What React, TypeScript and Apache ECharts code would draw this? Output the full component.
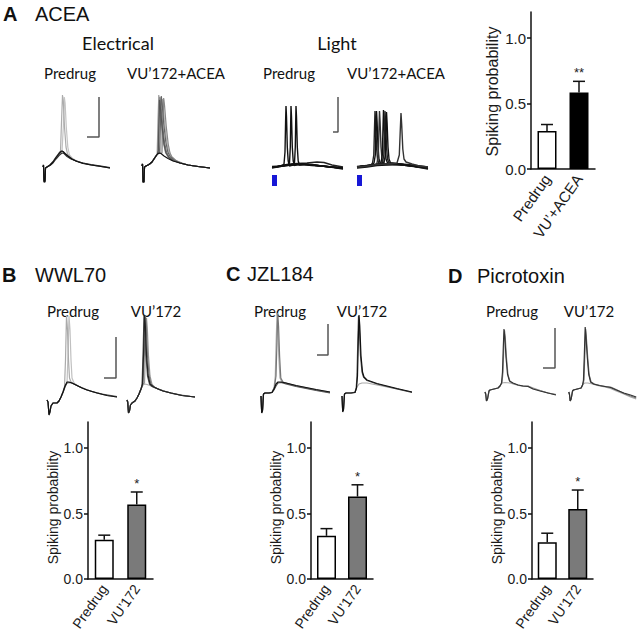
import React, { useEffect, useRef } from "react";
import * as echarts from "echarts";

type P = [number, number][];

// ---------------- bar chart data ----------------
const catsA = ["Predrug", "VU’+ACEA"];
const catsBCD = ["Predrug", "VU’172"];
const yTicks = [0, 0.5, 1.0];
const meanA = [0.29, 0.585];
const errA = [0.34, 0.67];
const starA = ["", "**"];
const meanB = [0.3, 0.57];
const errB = [0.335, 0.665];
const meanC = [0.33, 0.63];
const errC = [0.385, 0.72];
const meanD = [0.28, 0.535];
const errD = [0.35, 0.68];
const starBCD = ["", "*"];

// ---------------- traces (time ms, membrane mV relative to baseline) ----------------
// A, electrical, predrug
const aepSub1: P = [[0,0],[0.5,2],[1,-15],[2,-15],[2.5,-1],[4,0],[7,2],[10,5],[13,9.5],[16,13.5],[18,15.5],[19,16],[20,15.5],[22,13.5],[25,11],[29,8],[34,5.5],[40,3.5],[48,2],[58,0.5],[67,-1]];
const aepSub2: P = [[0,0],[0.5,2],[1,-14],[2,-14],[2.5,-1],[4,0],[7,1.5],[10,4],[13,8],[16,11.5],[19,14],[21,13.5],[24,10.5],[28,8],[33,6],[40,4],[48,2.5],[58,1],[67,-0.5]];
const aepSub3: P = [[0,0],[0.5,1],[1,-13],[2,-13],[2.5,-1],[4,0],[7,2],[10,5.5],[13,10],[16,14],[18,16],[20,15.5],[23,12.5],[27,9],[32,6.5],[39,4],[48,2],[58,0.5],[67,-1]];
const aepSp1: P = [[0,0],[0.5,2],[1,-15],[2,-15],[2.5,-1],[4,0],[7,2],[10,5],[13,9],[16,12.5],[17.5,16],[18.5,45],[19.5,72],[20.3,66],[21.5,40],[23,20],[24.5,13],[27,10],[31,7],[36,5],[44,3],[55,1],[67,-1]];
const aepSp2: P = [[0,0],[0.5,2],[1,-15],[2,-15],[2.5,-1],[4,0],[7,2],[10,5],[13,9],[16,12.5],[19,15],[20.3,40],[21.3,70],[22.1,64],[23.3,40],[24.8,20],[26.5,12],[29,9],[33,6.5],[38,4.5],[46,2.5],[56,1],[67,-1]];
const aepScale: P = [[44,30],[56,30],[56,70]];

// A, electrical, VU'172+ACEA
const aevSub: P = [[0,0],[0.5,2],[1,-16],[2,-16],[2.5,-1],[4,0],[7,1.5],[10,4],[12,7],[14,10],[15.5,12],[17,13],[19,12.5],[22,10],[26,7.5],[31,5],[38,3],[46,1],[56,-0.5],[68,-2]];
const aevSp1: P = [[0,0],[0.5,2],[1,-16],[2,-16],[2.5,-1],[4,0],[7,1.5],[10,4],[12,7],[14,10],[15.2,13],[16,45],[16.8,71],[17.6,64],[19.3,42],[21.3,24],[23.3,14],[26,9],[31,5.5],[38,3],[46,1],[56,-0.5],[68,-2]];
const aevSp2: P = [[0,0],[0.5,2],[1,-16],[2,-16],[2.5,-1],[4,0],[7,1.5],[10,4],[12,7],[14,10],[15.5,12],[16.4,16],[17.2,45],[18,69],[18.8,62],[20.5,42],[22.5,24],[24.5,14],[27,9],[31,6],[38,3],[46,1],[56,-0.5],[68,-2]];
const aevSp3: P = [[0,0],[0.5,2],[1,-16],[2,-16],[2.5,-1],[4,0],[7,1.5],[10,4],[12,7],[14,10],[15.5,12],[17.5,13],[18.5,45],[19.3,70],[20.1,63],[21.8,42],[23.8,24],[25.8,14],[28,9.5],[32,6],[38,3],[46,1],[56,-0.5],[68,-2]];
const aevSp4: P = [[0,0],[0.5,2],[1,-16],[2,-16],[2.5,-1],[4,0],[7,1.5],[10,4],[12,7],[14,10],[15.5,12],[18.7,13],[19.7,45],[20.5,67],[21.3,60],[23,40],[25,22],[27,13],[29,9.5],[33,6],[38,3.5],[46,1],[56,-0.5],[68,-2]];
const aevSp5: P = [[0,0],[0.5,2],[1,-16],[2,-16],[2.5,-1],[4,0],[7,1.5],[10,4],[12,7],[14,10],[15.5,12],[17,13],[20,13],[20.9,45],[21.7,68],[22.5,61],[24.2,40],[26.2,22],[28,13],[30,9],[34,5.5],[40,3],[46,1],[56,-0.5],[68,-2]];
const aevSp6: P = [[0,0],[0.5,2],[1,-16],[2,-16],[2.5,-1],[4,0],[7,1.5],[10,4],[12,7],[14,10],[15.5,12],[16.3,15],[16.9,45],[17.5,66],[18.3,59],[20,40],[22,22],[24,13],[27,8.5],[31,5.5],[38,3],[46,1],[56,-0.5],[68,-2]];

// A, light, predrug
const alpBase1: P = [[0,0],[5,0.5],[10,1.5],[15,2.5],[22,3],[30,3],[40,2],[50,1],[60,0],[71,-1]];
const alpBase2: P = [[0,-1],[8,0.5],[15,2],[25,3.5],[35,4],[45,5],[52,4.5],[60,2],[71,0]];
const alpBase3: P = [[0,0.5],[10,1],[20,2],[30,2.5],[40,1.5],[55,0.5],[71,-2]];
const alpSp1: P = [[0,0],[6,0.5],[10,1.5],[12,3],[13,15],[13.6,45],[14,61],[14.5,50],[15.3,20],[16.2,6],[17.5,1],[19,1.5],[25,2.5],[35,2.5],[45,1.5],[58,0],[71,-1]];
const alpSp2: P = [[0,0],[6,0.5],[12,1.5],[16,2.5],[17.5,4],[18.3,20],[18.7,45],[19,61],[19.5,50],[20.3,20],[21.2,6],[22.5,1.5],[25,2.5],[35,2.5],[45,1.5],[58,0],[71,-1]];
const alpSp3: P = [[0,-0.5],[8,0.5],[15,1.5],[21,3],[22.5,4],[23.3,20],[23.7,45],[24,61],[24.5,50],[25.3,20],[26.2,6],[27.5,2],[32,3],[40,2.5],[50,1],[60,0],[71,-1.5]];
const alpScale: P = [[61,35],[66,35],[66,70]];
const alpStim: P = [[0,-8],[5,-19]];

// A, light, VU'172+ACEA
const alvBase1: P = [[0,0],[8,1],[16,2],[25,3],[35,3.5],[45,3],[55,2],[64,1],[71,0]];
const alvBase2: P = [[0,-1],[10,0],[20,1.5],[30,2],[40,2.5],[50,1.5],[60,0],[71,-2]];
const alvSp1: P = [[0,0],[8,1],[14,2],[15.5,4],[16.8,12],[17.4,35],[18,56],[18.6,45],[19.5,20],[20.5,8],[22,3],[30,2.5],[40,2.5],[50,1.5],[60,0.5],[71,-1]];
const alvSp2: P = [[0,0],[8,1],[15,2],[17,4],[18.3,12],[18.9,35],[19.5,56],[20.1,45],[21,20],[22,8],[23.5,3],[30,3],[40,2.5],[50,1.5],[60,0.5],[71,-1]];
const alvSp3: P = [[0,-0.5],[10,1],[18,2.5],[20,4],[21.3,12],[21.9,35],[22.5,56],[23.1,45],[24,20],[25,8],[26.5,3.5],[35,3],[45,2.5],[55,1],[71,-1.5]];
const alvSp4: P = [[0,0],[10,1],[20,2.5],[24,4],[25.3,12],[25.9,35],[26.5,57],[27.1,45],[28,20],[29,8],[30.5,4],[40,3],[50,2],[60,0.5],[71,-1]];
const alvSp5: P = [[0,0],[10,1],[20,2.5],[25.5,4],[26.8,12],[27.4,35],[28,56],[28.6,45],[29.5,20],[30.5,8],[32,4],[40,3],[50,2],[60,0.5],[71,-1]];
const alvSp6: P = [[0,0.5],[10,1.5],[20,2.5],[27,4],[28.3,12],[28.9,35],[29.5,55],[30.1,44],[31,20],[32,8],[33.5,4],[42,3],[52,1.5],[62,0],[71,-1]];
const alvSp7: P = [[0,0],[10,1],[20,2.5],[30,3],[40,4],[42.3,12],[43.2,35],[44,54],[44.7,42],[45.8,18],[47,8],[49,5],[55,3],[62,1],[71,0]];
const alvStim: P = [[0,-8],[5,-19]];

// B, WWL70
const bpSub1: P = [[0,0],[1,-2],[2,-15],[3,-12],[4,-6],[6,-3],[10,-3],[12,-1],[14,3],[16,8],[18,14],[20,18],[22,18],[25,17],[30,14.5],[35,12],[40,10],[50,7],[60,4.5],[70,3]];
const bpSub2: P = [[0,0],[1,-2],[2,-14],[3,-11],[4,-6],[6,-3],[10,-3],[12,-1],[14,3],[16,7.5],[18,13],[20,17],[23,17.5],[27,16],[32,13.5],[38,11],[45,8.5],[55,6],[70,3.5]];
const bpSp1: P = [[0,0],[1,-2],[2,-15],[3,-12],[4,-6],[6,-3],[10,-3],[12,-1],[14,3],[16,8],[17.5,13],[18.5,40],[19.5,85],[20.5,70],[21.5,40],[22.5,22],[24,18],[27,16],[32,13.5],[40,10],[50,7],[60,4.5],[70,3]];
const bpSp2: P = [[0,0],[1,-2],[2,-15],[3,-12],[4,-6],[6,-3],[10,-3],[12,-1],[14,3],[16,8],[18,14],[20,17],[21,45],[22,84],[23,70],[24,40],[25,22],[27,17],[32,13.5],[40,10],[50,7],[60,4.5],[70,3]];
const bpScale: P = [[57,22],[69,22],[69,63]];

const bvSp1: P = [[0,0],[0.7,-2],[1.5,-13],[2.5,-11],[3.5,-5],[5,-3],[8,-1],[10,2],[12,6],[14,11],[15.5,16],[16.5,45],[17.5,85],[18.3,75],[19.5,45],[21,25],[23,16],[26,13.5],[30,11.5],[36,9],[44,7],[55,4.5],[68,3]];
const bvSp2: P = [[0,0],[0.7,-2],[1.5,-13],[2.5,-11],[3.5,-5],[5,-3],[8,-1],[10,2],[12,6],[14,11],[16,16.5],[17.3,45],[18.5,84],[19.3,74],[20.5,45],[22,25],[24,16],[27,13],[31,11],[37,9],[45,6.5],[55,4.5],[68,3]];
const bvSp3: P = [[0,0],[0.7,-2],[1.5,-12],[2.5,-10],[3.5,-5],[5,-3],[8,-1],[10,2],[12,6],[14,11],[16,16],[17.5,17],[18.4,45],[19.5,82],[20.3,72],[21.5,44],[23,24],[25,15.5],[28,12.5],[32,10.5],[38,8.5],[46,6.5],[56,4.5],[68,3]];
const bvSp4: P = [[0,0],[0.7,-2],[1.5,-13],[2.5,-11],[3.5,-5],[5,-3],[8,-1],[10,2],[12,6],[14,11],[15,14],[16,45],[17,85],[17.8,75],[19,45],[20.5,24],[22.5,16],[25,13.5],[30,11.5],[36,9],[44,7],[55,4.5],[68,3]];
const bvSub: P = [[0,0],[0.7,-2],[1.5,-12],[2.5,-10],[3.5,-5],[5,-3],[8,-1],[10,2],[12,6],[14,11],[16,15],[18,16],[20,15.5],[23,14.5],[28,12],[34,10],[42,7.5],[52,5.5],[68,3]];

// C, JZL184
const cpSub1: P = [[0,0],[0.7,-17],[1.5,-15],[2.5,2],[4,3],[8,3],[11,3.5],[13,7],[15,12],[17,14],[20,14],[25,13],[35,10.5],[45,8.5],[55,6.5],[69,4]];
const cpSub2: P = [[0,0],[0.7,-16],[1.5,-14],[2.5,2],[4,3],[8,3],[11,3.5],[13,6],[15,10],[17,13],[20,13.5],[25,12],[35,9.5],[45,7.5],[55,5.5],[69,3]];
const cpSp1: P = [[0,0],[0.7,-17],[1.5,-15],[2.5,2],[4,3],[8,3],[11,3.5],[13,8],[14.3,20],[15.2,55],[16,83],[16.8,70],[17.8,40],[19,18],[21,14],[25,13],[35,10.5],[45,8.5],[55,6.5],[69,4]];
const cpSp2: P = [[0,0],[0.7,-16],[1.5,-14],[2.5,2],[4,3],[8,3],[11,3.5],[13.5,9],[15,20],[16,55],[16.8,82],[17.6,69],[18.6,40],[19.8,18],[22,14],[26,12.5],[35,10],[45,8],[55,6],[69,3.5]];
const cpScale: P = [[56,41],[67,41],[67,72]];

const cvSp1: P = [[0,0],[0.7,-16],[1.5,-14],[2.5,2],[4,3],[9,3],[13,3.5],[14.5,8],[15.5,20],[16.3,55],[17,81],[17.8,70],[19,40],[20.5,24],[22,19],[25,16],[35,12.5],[45,10],[55,7.5],[70,4]];
const cvSp2: P = [[0,0],[0.7,-15],[1.5,-13],[2.5,2],[4,3],[9,3],[13,3.5],[14.2,8],[15,20],[15.8,55],[16.5,80],[17.3,69],[18.5,40],[20,24],[21.5,19],[25,15.5],[35,12],[45,9.5],[55,7],[70,3.5]];
const cvSub: P = [[0,0],[0.7,-15],[1.5,-13],[2.5,2],[4,3],[9,3],[13,4],[15,9],[17,12],[20,13],[25,13],[30,12],[40,10],[50,8],[60,6],[70,4]];

// D, Picrotoxin
const dpSp1: P = [[0,0],[0.7,-2],[1.5,-9],[2.5,-7],[4,1],[5,2],[9,3],[13,4],[15,6],[16.5,9],[17.5,20],[18.3,45],[19,63],[19.8,55],[21,35],[22.5,18],[24.5,11],[28,9],[33,7],[38,6],[43,5.5],[48,3],[55,1],[63,-1],[71,-3]];
const dpSp2: P = [[0,0],[0.7,-2],[1.5,-9],[2.5,-7],[4,1],[5,2],[9,3],[13,4],[15,6],[17,9],[18,20],[18.8,45],[19.5,62],[20.3,54],[21.5,34],[23,17],[25,10.5],[28,8.5],[33,7],[38,6],[43,6],[48,3.5],[55,1.5],[63,-1],[71,-2.5]];
const dpSub: P = [[0,0],[0.7,-2],[1.5,-9],[2.5,-7],[4,1],[5,2],[9,3],[13,4],[15,6],[17,9],[20,9.5],[25,9],[30,7.5],[36,6],[40,5.5],[43,6],[47,4.5],[55,1.5],[63,-1],[71,-2.5]];
const dpScale: P = [[58,24],[70,24],[70,64]];

const dvSp1: P = [[0,0],[0.7,-2],[1.5,-9],[2.5,-7],[4,1],[5,2],[9,3],[13,4],[14.5,7],[15.5,12],[16.5,40],[17.3,65],[18,57],[19.5,35],[21,18],[23,10],[26,8],[32,6.5],[38,5.5],[44,4.5],[50,2],[58,-1],[65,-3],[71,-5]];
const dvSp2: P = [[0,0],[0.7,-2],[1.5,-9],[2.5,-7],[4,1],[5,2],[9,3],[13,4],[15,7.5],[16,12],[17,40],[17.8,63],[18.5,55],[20,34],[21.5,17],[23.5,10],[27,8],[33,6.5],[39,5.5],[44,5],[50,2.5],[58,-1.5],[65,-4],[71,-6]];
const dvSub: P = [[0,0],[0.7,-2],[1.5,-9],[2.5,-7],[4,1],[5,2],[9,3],[13,4],[15,8],[17,9],[20,9],[25,8],[30,6.5],[38,5],[44,3.5],[50,1],[58,-2],[65,-5],[71,-7]];

// ---------------- layout ----------------
const SANS = '"Liberation Sans", Arial, sans-serif';
const HUM = 'Lato, "Open Sans", sans-serif';

type Panel = { x0: number; y0: number; lw: number; traces: [P, string][]; scale?: P; stim?: P };
const panels: Panel[] = [
  { x0: 43, y0: 167, lw: 1.2, traces: [[aepSp2, "#c4c4c4"], [aepSp1, "#acacac"], [aepSub3, "#777"], [aepSub2, "#333"], [aepSub1, "#111"]], scale: aepScale },
  { x0: 142, y0: 166, lw: 1.2, traces: [[aevSp4, "#b5b5b5"], [aevSp1, "#999"], [aevSp5, "#888"], [aevSp3, "#666"], [aevSp2, "#777"], [aevSp6, "#555"], [aevSub, "#111"]] },
  { x0: 272, y0: 167, lw: 1.4, traces: [[alpBase2, "#222"], [alpBase3, "#111"], [alpBase1, "#111"], [alpSp1, "#111"], [alpSp2, "#111"], [alpSp3, "#111"]], scale: alpScale, stim: alpStim },
  { x0: 357, y0: 167, lw: 1.4, traces: [[alvBase1, "#222"], [alvBase2, "#111"], [alvSp1, "#222"], [alvSp2, "#111"], [alvSp3, "#333"], [alvSp4, "#111"], [alvSp5, "#222"], [alvSp6, "#111"], [alvSp7, "#333"]], stim: alvStim },
  { x0: 47, y0: 400, lw: 1.2, traces: [[bpSp2, "#c0c0c0"], [bpSp1, "#aaa"], [bpSub2, "#555"], [bpSub1, "#111"]], scale: bpScale },
  { x0: 127, y0: 400, lw: 1.2, traces: [[bvSub, "#b0b0b0"], [bvSp3, "#999"], [bvSp2, "#777"], [bvSp4, "#555"], [bvSp1, "#222"]] },
  { x0: 261, y0: 396, lw: 1.2, traces: [[cpSp1, "#aaa"], [cpSp2, "#777"], [cpSub2, "#555"], [cpSub1, "#111"]], scale: cpScale },
  { x0: 342, y0: 396, lw: 1.2, traces: [[cvSub, "#aaa"], [cvSp2, "#555"], [cvSp1, "#111"]] },
  { x0: 485, y0: 392, lw: 1.2, traces: [[dpSub, "#aaa"], [dpSp2, "#888"], [dpSp1, "#333"]], scale: dpScale },
  { x0: 569, y0: 392, lw: 1.2, traces: [[dvSub, "#aaa"], [dvSp2, "#777"], [dvSp1, "#333"]] },
];

type BarPanel = { left: number; right: number; cats: string[]; mean: number[]; err: number[]; stars: string[]; fill: string; fs: number; nameFs: number; nameGap: number; nameShift: number };
const barPanels: BarPanel[] = [
  { left: 531, right: 595, cats: catsA, mean: meanA, err: errA, stars: starA, fill: "#000", fs: 15, nameFs: 16, nameGap: 31, nameShift: 2 },
  { left: 88, right: 153, cats: catsBCD, mean: meanB, err: errB, stars: starBCD, fill: "#7a7a7a", fs: 14, nameFs: 14, nameGap: 27, nameShift: 14 },
  { left: 311, right: 373, cats: catsBCD, mean: meanC, err: errC, stars: starBCD, fill: "#7a7a7a", fs: 14, nameFs: 14, nameGap: 27, nameShift: 14 },
  { left: 532, right: 593, cats: catsBCD, mean: meanD, err: errD, stars: starBCD, fill: "#7a7a7a", fs: 14, nameFs: 14, nameGap: 27, nameShift: 14 },
];
const barTops = [12, 422, 422, 422];
const barBottoms = [169, 579, 579, 579];

const T_MIN = -5, T_MAX = 75, V_MIN = -25, V_MAX = 90;

function buildOption() {
  const grid: any[] = [];
  const xAxis: any[] = [];
  const yAxis: any[] = [];
  const series: any[] = [];

  barPanels.forEach((bp, i) => {
    grid.push({ left: bp.left, top: barTops[i], width: bp.right - bp.left, height: barBottoms[i] - barTops[i] });
    xAxis.push({
      type: "category", gridIndex: i, data: bp.cats,
      axisLine: { lineStyle: { color: "#111", width: 1.5 } },
      axisTick: { show: false },
      axisLabel: { rotate: 55, margin: 7, color: "#1a1a1a", fontFamily: SANS, fontSize: bp.fs, interval: 0 },
    });
    yAxis.push({
      type: "value", gridIndex: i, min: 0, max: 1.2, interval: 0.5,
      name: "Spiking probability", nameLocation: "middle", nameGap: bp.nameGap,
      nameTextStyle: { fontFamily: SANS, fontSize: bp.nameFs, color: "#1a1a1a", padding: [0, bp.nameShift, 0, 0] },
      axisLine: { show: true, lineStyle: { color: "#111", width: 1.5 } },
      axisTick: { show: true, length: 4, lineStyle: { color: "#111", width: 1.5 }, customValues: yTicks },
      axisLabel: { color: "#1a1a1a", fontFamily: SANS, fontSize: bp.fs, margin: 5, customValues: yTicks, formatter: (v: number) => v.toFixed(1) },
      splitLine: { show: false },
    });
    series.push({
      type: "bar", xAxisIndex: i, yAxisIndex: i, barWidth: 19,
      data: bp.mean.map((m, k) => ({ value: m, itemStyle: { color: k === 0 ? "#fff" : bp.fill } })),
      itemStyle: { borderColor: "#000", borderWidth: 1.5 },
      z: 2,
    });
    series.push({
      type: "custom", xAxisIndex: i, yAxisIndex: i, z: 3,
      data: bp.mean.map((m, k) => [k, m, bp.err[k]]),
      renderItem: (params: any, api: any) => {
        const k = api.value(0);
        const p0 = api.coord([k, api.value(1)]);
        const p1 = api.coord([k, api.value(2)]);
        const star = bp.stars[params.dataIndex];
        const children: any[] = [
          { type: "line", shape: { x1: p0[0], y1: p0[1], x2: p1[0], y2: p1[1] }, style: { stroke: "#111", lineWidth: 1.5 } },
          { type: "line", shape: { x1: p1[0] - 6, y1: p1[1], x2: p1[0] + 6, y2: p1[1] }, style: { stroke: "#111", lineWidth: 1.5 } },
        ];
        if (star) {
          children.push({
            type: "text",
            style: { text: star, x: p1[0], y: p1[1] - 2, align: "center", verticalAlign: "bottom", textAlign: "center", textVerticalAlign: "bottom", font: `13px ${SANS}`, fill: "#222" },
          });
        }
        return { type: "group", children };
      },
    });
  });

  panels.forEach((p, j) => {
    const gi = barPanels.length + j;
    grid.push({ left: p.x0 + T_MIN, top: p.y0 - V_MAX, width: T_MAX - T_MIN, height: V_MAX - V_MIN });
    xAxis.push({ type: "value", gridIndex: gi, min: T_MIN, max: T_MAX, show: false });
    yAxis.push({ type: "value", gridIndex: gi, min: V_MIN, max: V_MAX, show: false });
    p.traces.forEach(([d, c], k) => {
      const s: any = {
        type: "line", xAxisIndex: gi, yAxisIndex: gi, data: d, symbol: "none", showSymbol: false,
        lineStyle: { color: c, width: p.lw }, silent: true, clip: false, z: 2,
      };
      if (k === 0 && p.stim) {
        s.markArea = { silent: true, itemStyle: { color: "#1717d6", opacity: 1 }, data: [[{ coord: p.stim[0] }, { coord: p.stim[1] }]] };
      }
      series.push(s);
    });
    if (p.scale) {
      series.push({
        type: "line", xAxisIndex: gi, yAxisIndex: gi, data: p.scale, symbol: "none", showSymbol: false,
        lineStyle: { color: "#555", width: 1.5 }, silent: true, clip: false, z: 2,
      });
    }
  });

  const txt = (x: number, y: number, text: string, font: string, align = "left") => ({
    type: "text", x, y,
    style: { text, font, fill: "#111", align, verticalAlign: "middle", textAlign: align, textVerticalAlign: "middle" },
  });
  const graphic = [
    txt(3, 14, "A", `bold 20px ${SANS}`),
    txt(35, 14, "ACEA", `20px ${SANS}`),
    txt(118, 43, "Electrical", `18px ${HUM}`, "center"),
    txt(337, 43, "Light", `18px ${HUM}`, "center"),
    txt(70, 73, "Predrug", `15px ${HUM}`, "center"),
    txt(176, 73, "VU’172+ACEA", `15px ${HUM}`, "center"),
    txt(289, 73, "Predrug", `15px ${HUM}`, "center"),
    txt(396, 73, "VU’172+ACEA", `15px ${HUM}`, "center"),
    txt(2, 275, "B", `bold 20px ${SANS}`),
    txt(35, 275, "WWL70", `20px ${SANS}`),
    txt(226, 274, "C", `bold 20px ${SANS}`),
    txt(247, 274, "JZL184", `20px ${SANS}`),
    txt(448, 276, "D", `bold 20px ${SANS}`),
    txt(477, 276, "Picrotoxin", `20px ${SANS}`),
    txt(73, 311, "Predrug", `15px ${HUM}`, "center"),
    txt(156, 311, "VU’172", `15px ${HUM}`, "center"),
    txt(280, 311, "Predrug", `15px ${HUM}`, "center"),
    txt(362, 311, "VU’172", `15px ${HUM}`, "center"),
    txt(512, 311, "Predrug", `15px ${HUM}`, "center"),
    txt(589, 311, "VU’172", `15px ${HUM}`, "center"),
  ];

  return { animation: false, backgroundColor: "#fff", grid, xAxis, yAxis, series, graphic };
}

export default function App() {
  const ref = useRef<HTMLDivElement>(null);
  useEffect(() => {
    if (!ref.current) return;
    const chart = echarts.init(ref.current, undefined, { renderer: "svg" });
    chart.setOption(buildOption() as any);
    return () => chart.dispose();
  }, []);
  return <div ref={ref} style={{ position: "absolute", left: 0, top: 0, width: 640, height: 635 }} />;
}
